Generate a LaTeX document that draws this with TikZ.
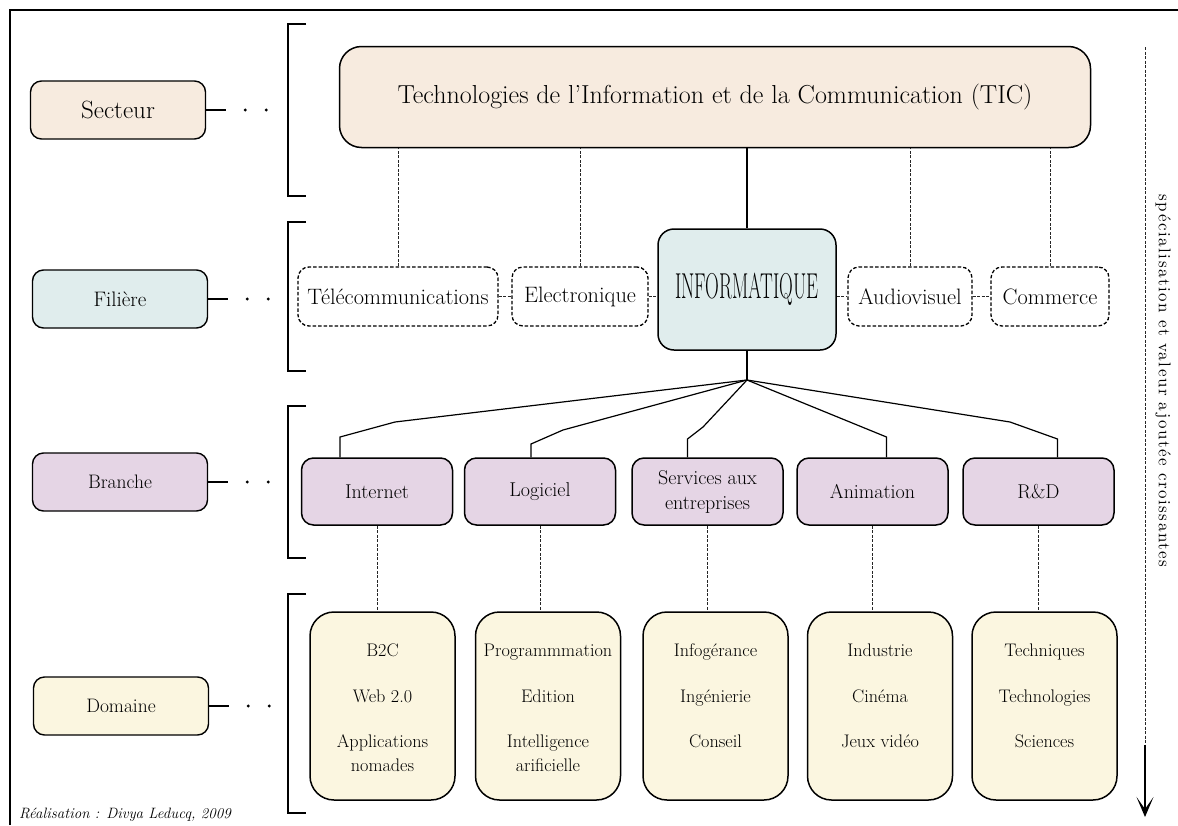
\documentclass[tikz,border=0pt]{standalone}
\usepackage{fontspec}
\usepackage{graphicx}
\usetikzlibrary{arrows.meta,positioning}

\newfontfamily\axisfont[LetterSpace=9]{lmroman10-regular.otf}

\definecolor{sectcol}{RGB}{247,235,223}
\definecolor{filcol}{RGB}{224,237,237}
\definecolor{brcol}{RGB}{229,213,229}
\definecolor{domcol}{RGB}{251,246,224}

\tikzset{
  levelbox/.style={draw, line width=1.4pt, rounded corners=11pt, minimum width=175pt, minimum height=58pt},
  bracket/.style={line width=2pt},
  filbox/.style={draw, dash pattern=on 3.5pt off 2pt, line width=1.3pt, rounded corners=11pt, minimum height=59pt, inner sep=2pt, font=\fontsize{22.3}{26}\selectfont},
  brbox/.style={draw, fill=brcol, line width=1.5pt, rounded corners=12pt, minimum width=151pt, minimum height=67pt, align=center, font=\fontsize{20}{25}\selectfont},
  dombox/.style={draw, fill=domcol, line width=1.5pt, rounded corners=24pt, minimum width=145pt, minimum height=188pt},
  domtext/.style={anchor=north, align=center, inner sep=0pt, font=\fontsize{18.2}{23.5}\selectfont},
  link/.style={line width=0.9pt, black!85, dash pattern=on 3pt off 1.5pt},
  tree/.style={line width=1.2pt},
}

\begin{document}
\begin{tikzpicture}[x=1pt,y=-1pt]
  \useasboundingbox (0,0) rectangle (1178,825);
  % frame
  \draw[line width=2pt] (10,825) -- (10,10) -- (1178,10);
  % level labels
  \node[levelbox, fill=sectcol, font=\fontsize{25}{30}\selectfont] (secteur) at (118,110) {Secteur};
  \node[levelbox, fill=filcol, font=\fontsize{21}{25}\selectfont] (filiere) at (120,299) {Filière};
  \node[levelbox, fill=brcol, font=\fontsize{19.5}{24}\selectfont] (branche) at (120,482) {Branche};
  \node[levelbox, fill=domcol, font=\fontsize{19.5}{24}\selectfont] (domaine) at (121,706) {Domaine};
  % dots towards the brackets
  \foreach \n in {secteur,filiere,branche,domaine}{
    \draw[line width=1.4pt] (\n.east) -- ++(20,0);
    \fill ([xshift=39pt]\n.east) circle (1.6pt);
    \fill ([xshift=60pt]\n.east) circle (1.6pt);
  }
  % brackets
  \foreach \ya/\yb in {24/196, 222/371, 406/558, 594/813}
    \draw[bracket] (306,\ya) -- (288,\ya) -- (288,\yb) -- (306,\yb);

  % secteur
  \node[draw, fill=sectcol, line width=1.5pt, rounded corners=22pt, minimum width=751pt, minimum height=101pt,
        font=\fontsize{26}{30}\selectfont] (tic) at (715,97)
        {Technologies de l'Information et de la Communication (TIC)};
  % filieres
  \node[filbox, minimum width=200pt] (tele) at (398,296.5) {Télécommunications};
  \node[filbox, minimum width=136pt] (ele) at (580,296.5) {Electronique};
  \node[draw, fill=filcol, line width=1.5pt, rounded corners=16pt, minimum width=178pt, minimum height=121pt] (info) at (747,289.5)
        {\scalebox{0.53}[1]{\fontsize{36}{40}\selectfont INFORMATIQUE}};
  \node[filbox, minimum width=124pt] (audio) at (910,296.5) {Audiovisuel};
  \node[filbox, minimum width=118pt] (comm) at (1050,296.5) {Commerce};
  % branches
  \node[brbox] (inet) at (377,491.5) {Internet};
  \node[brbox] (logi) at (540,491.5) {Logiciel};
  \node[brbox] (serv) at (707.5,491.5) {Services aux\\entreprises};
  \node[brbox] (anim) at (872.5,491.5) {Animation};
  \node[brbox] (rnd) at (1038.5,491.5) {R\&D};
  % domaines
  \node[dombox] (dinet) at (382.5,706) {};
  \node[dombox] (dlogi) at (548,706) {};
  \node[dombox] (dserv) at (715.5,706) {};
  \node[dombox] (danim) at (880,706) {};
  \node[dombox] (drnd) at (1044.5,706) {};
  \node[domtext] (tinet) at (dinet.north |- 0,644) {B2C\\[22pt]Web 2.0\\[22pt]Applications\\nomades};
  \node[domtext] (tlogi) at (dlogi.north |- 0,644) {Programmmation\\[22pt]Edition\\[22pt]Intelligence\\arificielle};
  \node[domtext] (tserv) at (dserv.north |- 0,644) {Infogérance\\[22pt]Ingénierie\\[22pt]Conseil};
  \node[domtext] (tanim) at (danim.north |- 0,644) {Industrie\\[22pt]Cinéma\\[22pt]Jeux vidéo};
  \node[domtext] (trnd) at (drnd.north |- 0,644) {Techniques\\[22pt]Technologies\\[22pt]Sciences};

  % secteur -> filieres
  \foreach \n in {tele,ele,audio,comm}
    \draw[link] (\n.north) -- (\n.north |- tic.south);
  \draw[tree] (info.north) -- (info.north |- tic.south);
  % links between filieres
  \draw[link] (tele.east) -- (ele.west);
  \draw[link] (ele.east) -- (ele.east -| info.west);
  \draw[link] (audio.west -| info.east) -- (audio.west);
  \draw[link] (audio.east) -- (comm.west);
  % informatique -> branches
  \coordinate (hub) at (747,380);
  \draw[tree] (info.south) -- (hub);
  \foreach \n/\dx/\bx/\by/\cx/\cy in {inet/-37/395/422/340/437, logi/-9/563/430/531/444,
      serv/-20/703/427/687.5/439, anim/14/886.5/437/886.5/437, rnd/19/1010/422/1057.5/439}
    \draw[tree] (hub) -- (\bx,\by) -- (\cx,\cy) -- ([xshift=\dx pt]\n.north);
  % branches -> domaines
  \foreach \b in {inet,logi,serv,anim,rnd}
    \draw[link] (\b.south) -- (\b.south |- d\b.north);

  % specialisation axis
  \coordinate (axtop) at (1145,47);
  \coordinate (axmid) at (1145,745);
  \coordinate (axtip) at (1145,817);
  \draw[link] (axtop) -- (axmid);
  \draw[line width=1.2pt, -{Stealth[length=20pt,width=17pt,inset=12pt]}] (axmid) -- (axtip);
  \node[rotate=-90, font=\axisfont\fontsize{17}{21}\selectfont] (axis) at (1163,381)
        {spécialisation et valeur ajoutée croissantes};

  % credit
  \node[anchor=base west, inner sep=0pt, font=\fontsize{15}{18}\selectfont\itshape] (credit) at (19,818)
        {Réalisation : Divya Leducq, 2009};
\end{tikzpicture}
\end{document}
